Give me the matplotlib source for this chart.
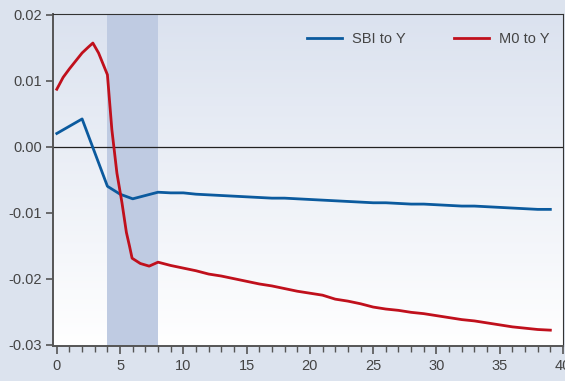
import numpy as np
import matplotlib
matplotlib.use("Agg")
import matplotlib.pyplot as plt
from matplotlib.ticker import MultipleLocator, FormatStrFormatter

plt.rcParams['font.family'] = ['Liberation Sans Narrow', 'Liberation Sans', 'DejaVu Sans']

# data
sbi_x = list(range(40))
sbi_y = [0.0020, 0.0031, 0.0042, -0.0009, -0.0060, -0.0072, -0.0079, -0.0074, -0.0069, -0.0070,
         -0.0070, -0.0072, -0.0073, -0.0074, -0.0075, -0.0076, -0.0077, -0.0078, -0.0078, -0.0079,
         -0.0080, -0.0081, -0.0082, -0.0083, -0.0084, -0.0085, -0.0085, -0.0086, -0.0087, -0.0087,
         -0.0088, -0.0089, -0.0090, -0.0090, -0.0091, -0.0092, -0.0093, -0.0094, -0.0095, -0.0095]

m0_x = [0, 0.5, 1, 1.5, 2, 2.5, 2.85, 3.3, 4.0, 4.35, 4.75, 5.15, 5.5, 5.75, 5.95, 6.6, 7.3, 8.0] + list(range(9, 40))
m0_y = [0.0087, 0.0105, 0.0118, 0.0130, 0.0142, 0.0151, 0.0157, 0.0142, 0.0109, 0.0026,
        -0.0040, -0.0085, -0.0130, -0.0151, -0.0169, -0.0177, -0.0181, -0.0175,
        -0.0180, -0.0184, -0.0188, -0.0193, -0.0196, -0.0200, -0.0204, -0.0208, -0.0211, -0.0215,
        -0.0219, -0.0222, -0.0225, -0.0231, -0.0234, -0.0238, -0.0243, -0.0246, -0.0248, -0.0251,
        -0.0253, -0.0256, -0.0259, -0.0262, -0.0264, -0.0267, -0.0270, -0.0273, -0.0275, -0.0277,
        -0.0278]

shade = (4, 8)
labels = ['SBI to Y', 'M0 to Y']

bg = '#dce3ee'
fig = plt.figure(figsize=(5.65, 3.81), dpi=100, facecolor=bg)
ax = fig.add_axes([53/565, 1-346/381, 510/565, 332/381])
ax.set_facecolor('white')

# gradient background of the plot area
grad = np.linspace(0, 1, 256).reshape(-1, 1)
cmap = matplotlib.colors.LinearSegmentedColormap.from_list('g', ['#dbe2ef', '#ffffff'])
ax.imshow(grad, cmap=cmap, aspect='auto', extent=[0, 1, 0, 1],
          transform=ax.transAxes, zorder=0)

ax.axvspan(shade[0], shade[1], color='#bfcbe2', zorder=1, lw=0)
ax.axhline(0, color='#222222', lw=0.9, zorder=2)

ax.plot(sbi_x, sbi_y, color='#0b5a9e', lw=2.0, label=labels[0], zorder=3)
ax.plot(m0_x, m0_y, color='#c0101c', lw=2.0, label=labels[1], zorder=3)

ax.set_xlim(-0.3, 40)
ax.set_ylim(-0.0302, 0.0201)
ax.xaxis.set_major_locator(MultipleLocator(5))
ax.xaxis.set_minor_locator(MultipleLocator(1))
ax.yaxis.set_major_locator(MultipleLocator(0.01))
ax.yaxis.set_major_formatter(FormatStrFormatter('%.2f'))

for s in ['top', 'right']:
    ax.spines[s].set_color('#333333')
    ax.spines[s].set_linewidth(0.8)
for s in ['left', 'bottom']:
    ax.spines[s].set_color('#555555')
    ax.spines[s].set_linewidth(1.4)

ax.tick_params(axis='both', which='major', direction='out', color='#555555',
               labelcolor='#444444', labelsize=10.5, width=1.2)
ax.tick_params(axis='x', which='major', length=6, pad=3)
ax.tick_params(axis='x', which='minor', length=4, width=1.0, color='#555555')
ax.tick_params(axis='y', which='major', length=5, pad=3)

ax.legend(loc='upper right', ncol=2, frameon=False, fontsize=10.5, labelcolor='#444444',
          handlelength=2.4, handletextpad=0.7, columnspacing=3.3,
          bbox_to_anchor=(1.0, 0.985))

fig.savefig('out.png', dpi=100, facecolor=bg)
